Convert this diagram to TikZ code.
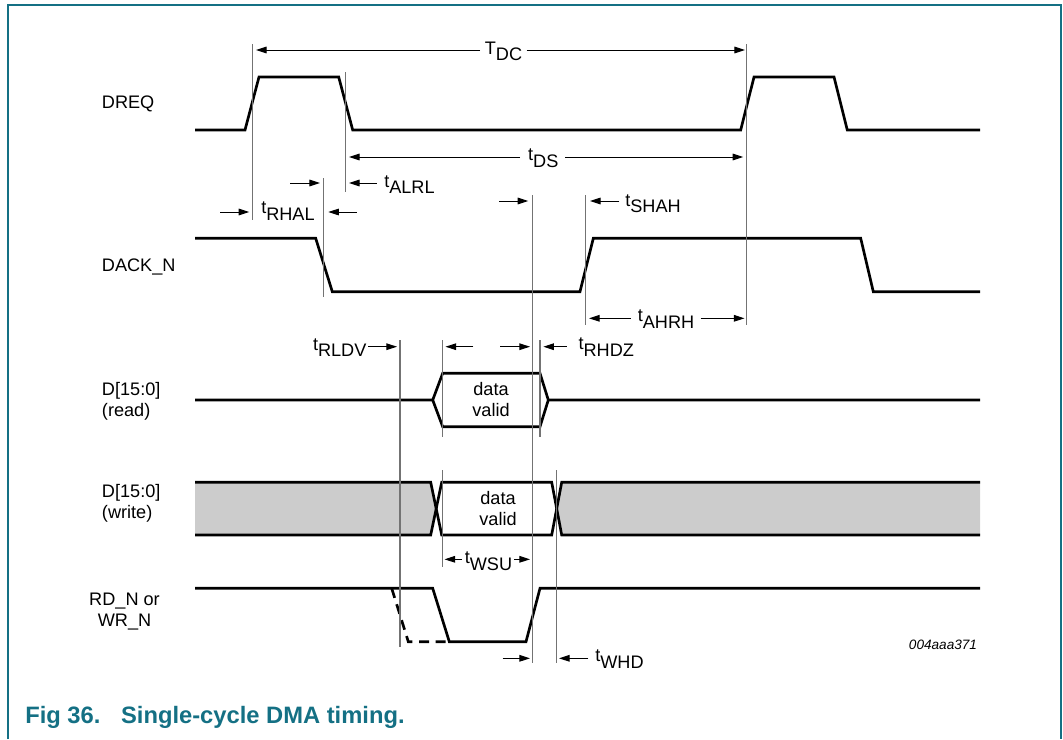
\documentclass[tikz,border=0pt]{standalone}
\usepackage{fontspec}
\setmainfont{Liberation Sans}
\usetikzlibrary{arrows.meta}
\definecolor{nxpteal}{RGB}{20,112,132}
\definecolor{busgray}{RGB}{204,204,204}
\newcommand{\tsig}[2]{#1\raisebox{-0.36em}{#2}}
\begin{document}
\begin{tikzpicture}[x=0.75pt,y=-0.75pt,
  sig/.style={line width=2pt, line join=miter},
  tick/.style={line width=0.9pt, draw=black!55},
  dim/.style={line width=0.75pt, -{Triangle[length=8pt,width=5pt]}},
  lbl/.style={inner sep=0pt, font=\fontsize{13.6}{15.75}\selectfont},
  frameline/.style={draw=nxpteal, line width=1.5pt}]
\useasboundingbox (0,0) rectangle (1063,739);
% frame
\draw[frameline] (8,739) -- (8,5) -- (1061,5) -- (1061,739);

% signal names
\node[lbl, anchor=west] (dreq) at (101.7,103.5) {DREQ};
\node[lbl, anchor=west] (dack) at (101.7,266.5) {DACK\_N};
\node[lbl, anchor=west, align=left] (dread) at (101.7,401) {D[15:0]\\(read)};
\node[lbl, anchor=west, align=left] (dwrite) at (101.7,503) {D[15:0]\\(write)};
\node[lbl, align=center] (rdn) at (124.5,612) {RD\_N or\\WR\_N};

% DREQ
\draw[sig] (195,130) -- (245,130) -- (259,77) -- (338.7,77) -- (352.7,130) -- (740.7,130) -- (754,77) -- (834,77) -- (847.3,130) -- (980,130);
% DACK_N
\draw[sig] (195,238.3) -- (315.7,238.3) -- (332.3,291.7) -- (580,291.7) -- (593.3,238.3) -- (860.7,238.3) -- (873.3,291.7) -- (980,291.7);
% D read
\draw[sig] (195,400) -- (432.7,400) -- (442.7,373.3) -- (540,373.3) -- (548.3,400) -- (980,400);
\draw[sig] (432.7,400) -- (442.7,426.7) -- (540,426.7) -- (548.3,400);
\node[lbl, align=center] (rvalid) at (491,400) {data\\valid};
% D write
\fill[busgray] (195,482.3) -- (430.7,482.3) -- (436.2,508.7) -- (430.7,535) -- (195,535) -- cycle;
\fill[busgray] (980,482.3) -- (561.7,482.3) -- (556.7,508.7) -- (561.7,535) -- (980,535) -- cycle;
\draw[sig] (195,482.3) -- (430.7,482.3) -- (441.7,535) -- (551.7,535) -- (561.7,482.3) -- (980,482.3);
\draw[sig] (195,535) -- (430.7,535) -- (441.7,482.3) -- (551.7,482.3) -- (561.7,535) -- (980,535);
\node[lbl, align=center] (wvalid) at (498,508.5) {data\\valid};
% RD_N / WR_N
\draw[sig] (195,588.3) -- (432.7,588.3) -- (449.3,641.7) -- (526,641.7) -- (540,588.3) -- (980,588.3);
\draw[sig, dash pattern=on 7.5pt off 5pt] (391.7,588.3) -- (408.3,641.7) -- (449.3,641.7);

% timing reference lines
\draw[tick] (252.3,44) -- (252.3,220);
\draw[tick] (345.7,72) -- (345.7,192);
\draw[tick] (323.3,178) -- (323.3,297);
\draw[tick] (532.7,195) -- (532.7,663.3);
\draw[tick] (585.7,195) -- (585.7,325);
\draw[tick] (746.7,44) -- (746.7,325);
\draw[tick] (400,340) -- (400,646.7);
\draw[tick] (442.7,340) -- (442.7,436.7);
\draw[tick] (540,340) -- (540,436.7);
\draw[tick] (442.7,470) -- (442.7,566.7);
\draw[tick] (556.7,470) -- (556.7,663.3);

% T_DC
\node[lbl] (tdc) at (503.5,51.5) {\tsig{T}{DC}};
\draw[dim] (480,50) -- (256,50);
\draw[dim] (526.7,50) -- (745,50);
% t_DS
\node[lbl] (tds) at (543.3,158) {\tsig{t}{DS}};
\draw[dim] (520,157) -- (349,157);
\draw[dim] (565,157) -- (743.3,157);
% t_ALRL
\node[lbl, anchor=west] (talrl) at (384,184.5) {\tsig{t}{ALRL}};
\draw[dim] (376.7,183) -- (349,183);
\draw[dim] (290,183) -- (320,183);
% t_RHAL
\node[lbl, anchor=west] (trhal) at (261,211) {\tsig{t}{RHAL}};
\draw[dim] (220,212) -- (249.3,212);
\draw[dim] (356.7,212) -- (328.3,212);
% t_SHAH
\node[lbl, anchor=west] (tshah) at (625,203.7) {\tsig{t}{SHAH}};
\draw[dim] (499.3,201) -- (528.3,201);
\draw[dim] (619.3,201) -- (590,201);
% t_AHRH
\node[lbl] (tahrh) at (666,319) {\tsig{t}{AHRH}};
\draw[dim] (630.7,318.3) -- (589,318.3);
\draw[dim] (700.7,318.3) -- (744.5,318.3);
% t_RLDV
\node[lbl, anchor=east] (trldv) at (366.7,347.5) {\tsig{t}{RLDV}};
\draw[dim] (368,346.7) -- (397,346.7);
% data valid (read) window
\draw[dim] (473.3,346.7) -- (445.5,346.7);
\draw[dim] (500,346.7) -- (530,346.7);
% t_RHDZ
\node[lbl, anchor=west] (trhdz) at (578.3,347) {\tsig{t}{RHDZ}};
\draw[dim] (566.7,346.7) -- (543.3,346.7);
% t_WSU
\node[lbl] (twsu) at (488.5,561) {\tsig{t}{WSU}};
\draw[dim] (462,559.3) -- (444.5,559.3);
\draw[dim] (514,559.3) -- (530,559.3);
% t_WHD
\node[lbl, anchor=west] (twhd) at (595,659) {\tsig{t}{WHD}};
\draw[dim] (502.7,658.3) -- (530,658.3);
\draw[dim] (588.3,658.3) -- (559,658.3);

% figure id and caption
\node[inner sep=0pt, anchor=east, font=\itshape\fontsize{10.2}{12}\selectfont] (figid) at (977.3,645) {004aaa371};
\node[inner sep=0pt, anchor=west, text=nxpteal, font=\bfseries\fontsize{17.8}{20}\selectfont] (caption) at (25,717.5) {Fig 36.\hspace{15.5pt}Single-cycle DMA timing.};
\end{tikzpicture}
\end{document}
